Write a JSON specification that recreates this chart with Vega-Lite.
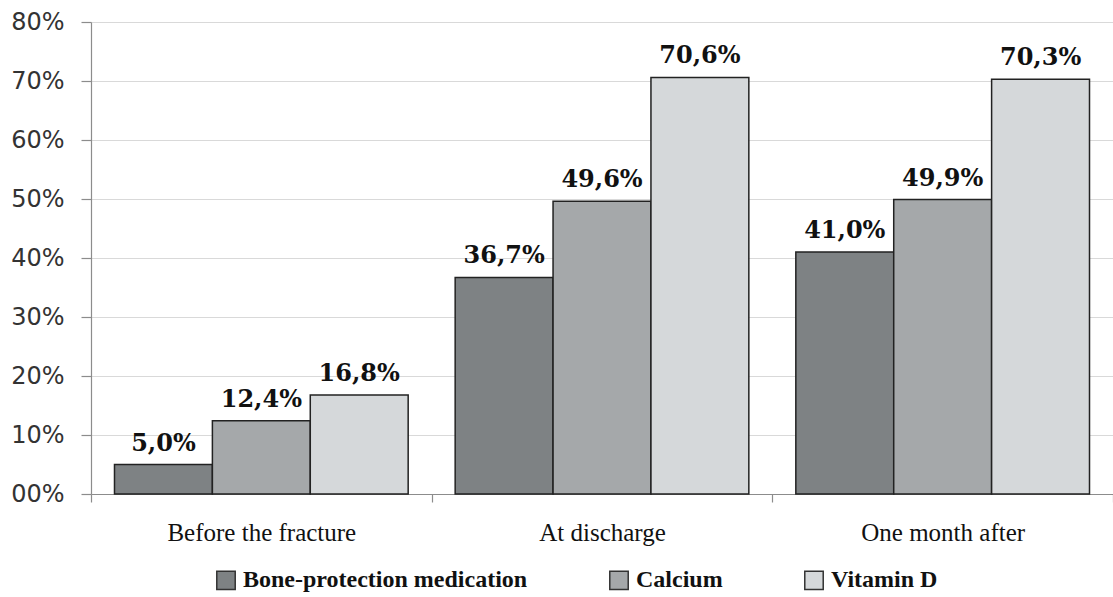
{
  "$schema": "https://vega.github.io/schema/vega-lite/v6.json",
  "width": 1022,
  "height": 472,
  "autosize": {"type": "none"},
  "padding": {"left": 91, "top": 22, "right": 0, "bottom": 103},
  "background": "white",
  "config": {
    "locale": {"number": {"decimal": ",", "thousands": ".", "grouping": [3], "currency": ["", "€"]}},
    "view": {"stroke": null},
    "axis": {"domainColor": "#8c8c8c", "tickColor": "#8c8c8c", "gridColor": "#d9d9d9", "domainWidth": 1.2, "tickWidth": 1.2}
  },
  "data": {
    "values": [
      {"period": "Before the fracture", "type": "Bone-protection medication", "value": 0.050},
      {"period": "Before the fracture", "type": "Calcium", "value": 0.124},
      {"period": "Before the fracture", "type": "Vitamin D", "value": 0.168},
      {"period": "At discharge", "type": "Bone-protection medication", "value": 0.367},
      {"period": "At discharge", "type": "Calcium", "value": 0.496},
      {"period": "At discharge", "type": "Vitamin D", "value": 0.706},
      {"period": "One month after", "type": "Bone-protection medication", "value": 0.410},
      {"period": "One month after", "type": "Calcium", "value": 0.499},
      {"period": "One month after", "type": "Vitamin D", "value": 0.703}
    ]
  },
  "encoding": {
    "x": {
      "field": "period", "type": "nominal", "sort": null,
      "scale": {"paddingInner": 0, "paddingOuter": 0},
      "axis": {"title": null, "labelAngle": 0, "labelFont": "Liberation Serif", "labelFontSize": 25, "labelColor": "#111", "labelLimit": 500, "tickBand": "extent", "tickSize": 8, "labelPadding": 18, "grid": false}
    },
    "xOffset": {"field": "type", "type": "nominal", "sort": null, "scale": {"paddingInner": 0, "paddingOuter": 0.24}},
    "y": {
      "field": "value", "type": "quantitative",
      "scale": {"domain": [0, 0.8], "nice": false},
      "axis": {"title": null, "format": "03.0%", "values": [0, 0.1, 0.2, 0.3, 0.4, 0.5, 0.6, 0.7, 0.8], "labelFont": "DejaVu Sans", "labelFontSize": 24, "labelColor": "#333", "tickSize": 10, "labelPadding": 17, "grid": true}
    }
  },
  "layer": [
    {
      "mark": {"type": "bar", "stroke": "#222", "strokeWidth": 1.5},
      "encoding": {
        "color": {
          "field": "type", "type": "nominal", "sort": null,
          "scale": {"domain": ["Bone-protection medication", "Calcium", "Vitamin D"], "range": ["#7e8284", "#a5a8aa", "#d5d8da"]},
          "legend": {
            "title": null, "orient": "none", "direction": "horizontal", "legendX": 123, "legendY": 546,
            "padding": 0, "symbolType": "square", "symbolSize": 340, "symbolStrokeColor": "#333", "symbolStrokeWidth": 1.5,
            "labelFont": "Liberation Serif", "labelFontWeight": "bold", "labelFontSize": 24, "labelColor": "#111",
            "labelOffset": 5, "columnPadding": 78, "labelLimit": 400
          }
        }
      }
    },
    {
      "mark": {"type": "text", "baseline": "alphabetic", "dy": -14, "font": "DejaVu Serif", "fontWeight": "bold", "fontSize": 24, "color": "#111"},
      "encoding": {
        "text": {"field": "value", "type": "quantitative", "format": ".1%"}
      }
    }
  ]
}
